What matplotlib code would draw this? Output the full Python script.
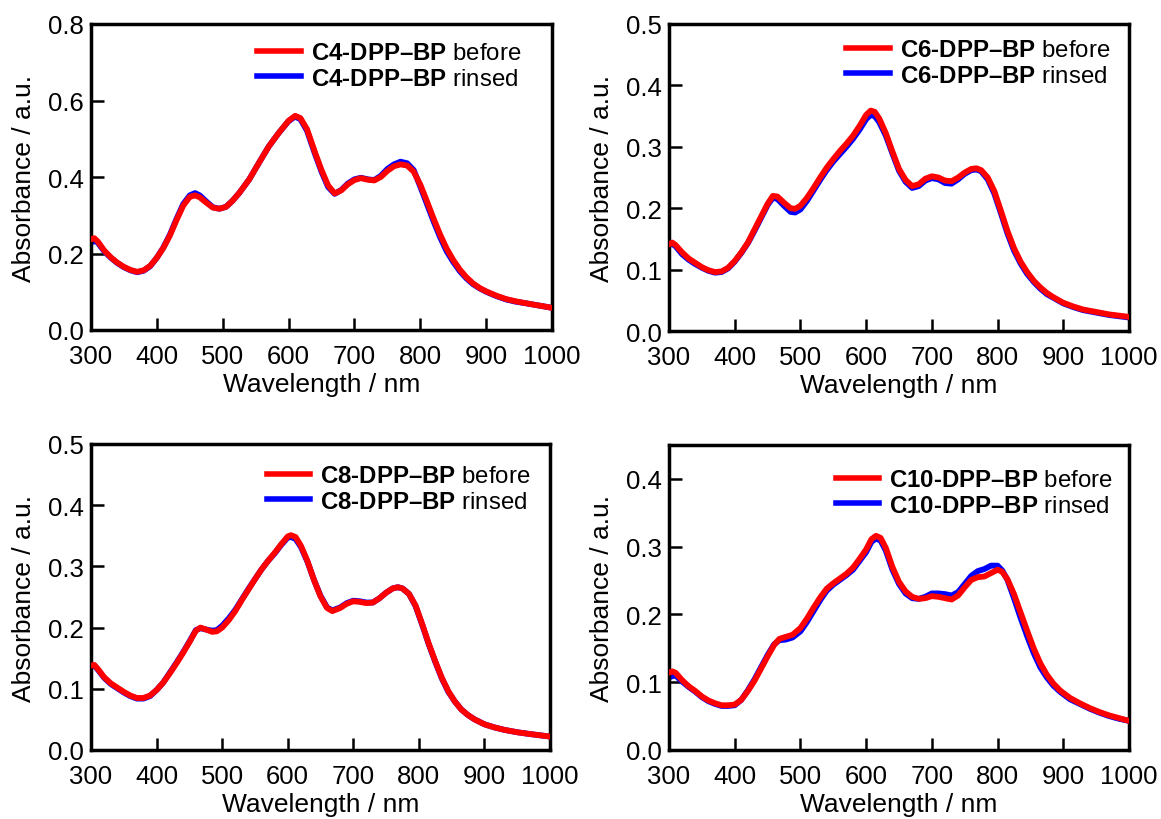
import matplotlib
matplotlib.use("Agg")
import matplotlib.pyplot as plt
from matplotlib.lines import Line2D

plt.rcParams["font.family"] = ["Liberation Sans", "DejaVu Sans"]
plt.rcParams["mathtext.fontset"] = "custom"
plt.rcParams["mathtext.rm"] = "Liberation Sans"
plt.rcParams["mathtext.bf"] = "Liberation Sans:bold"

# ---- C4-DPP-BP ----
c4_wl = [300, 305, 310, 320, 330, 340, 350, 360, 370, 380, 390, 400, 410, 420,
         430, 440, 450, 458, 465, 475, 485, 495, 505, 515, 525, 540, 555, 570,
         585, 600, 610, 618, 628, 640, 650, 660, 670, 680, 690, 700, 710, 720,
         730, 740, 750, 760, 770, 780, 790, 800, 810, 820, 830, 840, 850, 860,
         870, 880, 890, 900, 915, 930, 945, 960, 980, 1000]
c4_before = [0.237, 0.240, 0.232, 0.208, 0.190, 0.176, 0.165, 0.157, 0.152, 0.156,
             0.168, 0.189, 0.215, 0.248, 0.288, 0.325, 0.348, 0.352, 0.347, 0.333,
             0.320, 0.317, 0.322, 0.338, 0.358, 0.393, 0.437, 0.480, 0.515, 0.547,
             0.560, 0.554, 0.525, 0.465, 0.418, 0.378, 0.357, 0.365, 0.381, 0.392,
             0.397, 0.393, 0.391, 0.400, 0.416, 0.428, 0.433, 0.430, 0.414, 0.380,
             0.337, 0.292, 0.250, 0.213, 0.183, 0.158, 0.138, 0.122, 0.110, 0.101,
             0.090, 0.081, 0.075, 0.070, 0.064, 0.058]
c4_rinsed = [0.228, 0.233, 0.229, 0.206, 0.189, 0.175, 0.164, 0.156, 0.151, 0.155,
             0.167, 0.189, 0.216, 0.250, 0.291, 0.329, 0.352, 0.358, 0.352, 0.336,
             0.321, 0.317, 0.322, 0.338, 0.358, 0.393, 0.437, 0.480, 0.515, 0.546,
             0.558, 0.551, 0.521, 0.461, 0.414, 0.374, 0.356, 0.366, 0.383, 0.394,
             0.398, 0.394, 0.392, 0.403, 0.421, 0.433, 0.440, 0.436, 0.418, 0.375,
             0.330, 0.285, 0.243, 0.206, 0.178, 0.154, 0.135, 0.120, 0.109, 0.100,
             0.089, 0.080, 0.074, 0.070, 0.064, 0.058]

# ---- C6-DPP-BP ----
c6_wl = [300, 305, 310, 320, 330, 340, 350, 360, 370, 380, 390, 400, 410, 420,
         430, 440, 450, 458, 465, 475, 485, 492, 500, 510, 520, 530, 540, 550,
         560, 570, 580, 590, 600, 607, 613, 620, 630, 640, 650, 660, 670, 680,
         690, 700, 710, 720, 730, 740, 750, 760, 768, 775, 785, 795, 805, 815,
         825, 835, 845, 855, 865, 875, 885, 900, 915, 930, 950, 970, 1000]
c6_before = [0.141, 0.144, 0.140, 0.128, 0.118, 0.111, 0.104, 0.099, 0.096, 0.097,
             0.103, 0.114, 0.128, 0.144, 0.165, 0.186, 0.207, 0.220, 0.219, 0.209,
             0.200, 0.199, 0.204, 0.217, 0.233, 0.250, 0.266, 0.280, 0.293, 0.305,
             0.318, 0.334, 0.352, 0.359, 0.357, 0.346, 0.322, 0.292, 0.264, 0.246,
             0.236, 0.239, 0.248, 0.252, 0.250, 0.245, 0.244, 0.250, 0.258, 0.264,
             0.265, 0.262, 0.250, 0.228, 0.196, 0.163, 0.135, 0.113, 0.096, 0.082,
             0.071, 0.062, 0.055, 0.046, 0.040, 0.035, 0.031, 0.027, 0.023]
c6_rinsed = [0.140, 0.142, 0.138, 0.125, 0.116, 0.109, 0.103, 0.098, 0.095, 0.096,
             0.102, 0.113, 0.127, 0.143, 0.163, 0.184, 0.205, 0.217, 0.215, 0.204,
             0.194, 0.193, 0.198, 0.212, 0.229, 0.246, 0.262, 0.276, 0.288, 0.300,
             0.313, 0.328, 0.345, 0.352, 0.350, 0.340, 0.318, 0.289, 0.261, 0.243,
             0.233, 0.236, 0.245, 0.249, 0.247, 0.241, 0.240, 0.247, 0.256, 0.262,
             0.263, 0.260, 0.247, 0.224, 0.192, 0.159, 0.131, 0.110, 0.093, 0.080,
             0.069, 0.060, 0.054, 0.045, 0.039, 0.034, 0.030, 0.026, 0.022]

# ---- C8-DPP-BP ----
c8_wl = [300, 305, 310, 320, 330, 340, 350, 360, 370, 380, 390, 400, 410, 420,
         430, 440, 450, 460, 467, 475, 485, 492, 500, 510, 520, 530, 540, 550,
         560, 570, 580, 590, 600, 605, 612, 620, 630, 640, 650, 660, 668, 680,
         690, 700, 710, 720, 730, 740, 750, 760, 768, 775, 785, 795, 805, 815,
         825, 835, 845, 855, 865, 875, 885, 900, 915, 930, 950, 970, 1000]
c8_before = [0.138, 0.139, 0.133, 0.119, 0.109, 0.102, 0.095, 0.089, 0.085, 0.085,
             0.089, 0.098, 0.110, 0.125, 0.141, 0.158, 0.176, 0.195, 0.200, 0.197,
             0.193, 0.194, 0.200, 0.212, 0.227, 0.245, 0.262, 0.279, 0.295, 0.309,
             0.322, 0.336, 0.349, 0.351, 0.348, 0.334, 0.309, 0.278, 0.251, 0.232,
             0.227, 0.232, 0.239, 0.243, 0.242, 0.240, 0.241, 0.248, 0.257, 0.264,
             0.266, 0.264, 0.255, 0.236, 0.206, 0.174, 0.145, 0.118, 0.096, 0.079,
             0.066, 0.057, 0.050, 0.042, 0.037, 0.033, 0.029, 0.026, 0.022]
c8_rinsed = [0.137, 0.138, 0.132, 0.118, 0.108, 0.101, 0.094, 0.088, 0.084, 0.084,
             0.088, 0.098, 0.110, 0.126, 0.142, 0.159, 0.177, 0.196, 0.199, 0.197,
             0.195, 0.196, 0.203, 0.215, 0.229, 0.246, 0.263, 0.279, 0.295, 0.309,
             0.321, 0.335, 0.347, 0.348, 0.345, 0.332, 0.308, 0.278, 0.252, 0.233,
             0.228, 0.233, 0.240, 0.244, 0.243, 0.241, 0.241, 0.248, 0.257, 0.264,
             0.266, 0.264, 0.255, 0.235, 0.205, 0.173, 0.144, 0.117, 0.095, 0.079,
             0.066, 0.057, 0.050, 0.042, 0.037, 0.033, 0.029, 0.026, 0.022]

# ---- C10-DPP-BP ----
c10_wl = [300, 305, 310, 320, 330, 340, 350, 360, 370, 380, 390, 400, 410, 420,
          430, 440, 450, 460, 468, 478, 488, 500, 510, 520, 530, 540, 550, 560,
          570, 580, 590, 600, 608, 615, 622, 630, 640, 650, 660, 670, 680, 690,
          700, 710, 720, 730, 740, 750, 760, 770, 780, 790, 800, 807, 815, 825,
          835, 845, 855, 865, 875, 885, 895, 910, 925, 940, 955, 970, 985, 1000]
c10_before = [0.114, 0.116, 0.114, 0.103, 0.094, 0.087, 0.079, 0.073, 0.069, 0.066,
              0.066, 0.067, 0.074, 0.087, 0.102, 0.120, 0.138, 0.155, 0.164, 0.167,
              0.170, 0.180, 0.194, 0.210, 0.225, 0.238, 0.246, 0.253, 0.260, 0.269,
              0.282, 0.296, 0.311, 0.316, 0.313, 0.298, 0.270, 0.248, 0.234, 0.226,
              0.223, 0.224, 0.227, 0.226, 0.224, 0.222, 0.228, 0.240, 0.251, 0.255,
              0.256, 0.261, 0.266, 0.263, 0.252, 0.230, 0.203, 0.176, 0.150, 0.128,
              0.111, 0.098, 0.088, 0.077, 0.069, 0.062, 0.056, 0.051, 0.047, 0.043]
c10_rinsed = [0.107, 0.109, 0.110, 0.101, 0.093, 0.086, 0.078, 0.072, 0.068, 0.065,
              0.065, 0.066, 0.074, 0.088, 0.104, 0.122, 0.140, 0.156, 0.162, 0.163,
              0.166, 0.175, 0.189, 0.205, 0.221, 0.235, 0.244, 0.251, 0.258, 0.266,
              0.279, 0.292, 0.307, 0.312, 0.309, 0.294, 0.266, 0.245, 0.231, 0.224,
              0.223, 0.226, 0.231, 0.231, 0.230, 0.228, 0.233, 0.245, 0.257, 0.264,
              0.267, 0.272, 0.272, 0.265, 0.251, 0.224, 0.195, 0.168, 0.143, 0.122,
              0.107, 0.095, 0.086, 0.075, 0.068, 0.061, 0.055, 0.050, 0.046, 0.043]

names = ["C4-DPP\u2013BP", "C6-DPP\u2013BP", "C8-DPP\u2013BP", "C10-DPP\u2013BP"]
wavelengths = [c4_wl, c6_wl, c8_wl, c10_wl]
before_sets = [c4_before, c6_before, c8_before, c10_before]
rinsed_sets = [c4_rinsed, c6_rinsed, c8_rinsed, c10_rinsed]
y_limits = [(0, 0.8), (0, 0.5), (0, 0.5), (0, 0.45)]
y_ticks = [[0.0, 0.2, 0.4, 0.6, 0.8],
           [0.0, 0.1, 0.2, 0.3, 0.4, 0.5],
           [0.0, 0.1, 0.2, 0.3, 0.4, 0.5],
           [0.0, 0.1, 0.2, 0.3, 0.4]]
x_ticks = [300, 400, 500, 600, 700, 800, 900, 1000]

RED = "#ff0000"
BLUE = "#0000ff"

W, H = 1161, 820
fig = plt.figure(figsize=(W / 100, H / 100), dpi=100)

# panel boxes in pixels: left, right, top, bottom
boxes = [(91, 552, 25, 331), (669, 1129, 25, 332),
         (91, 550, 445, 751), (669, 1129, 446, 751)]
legend_anchor = [(0.933, 0.941), (0.959, 0.951), (0.958, 0.931), (0.965, 0.921)]

for i in range(4):
    l, r, t, b = boxes[i]
    ax = fig.add_axes([l / W, 1 - b / H, (r - l) / W, (b - t) / H])
    wl = wavelengths[i]
    ax.plot(wl, rinsed_sets[i], color=BLUE, lw=4.2, solid_capstyle="round",
            solid_joinstyle="round", zorder=2)
    ax.plot(wl, before_sets[i], color=RED, lw=4.2, solid_capstyle="round",
            solid_joinstyle="round", zorder=3)
    ax.set_xlim(300, 1000)
    ax.set_ylim(*y_limits[i])
    ax.set_xticks(x_ticks)
    ax.set_yticks(y_ticks[i])
    ax.set_yticklabels([f"{v:.1f}" for v in y_ticks[i]])
    ax.tick_params(direction="in", length=9, width=1.8, labelsize=18.5,
                   top=False, right=False)
    ax.tick_params(axis="x", pad=10)
    ax.tick_params(axis="y", pad=5)
    for s in ax.spines.values():
        s.set_linewidth(2.5)
    ax.set_xlabel("Wavelength / nm", fontsize=19, labelpad=3)
    ax.set_ylabel("Absorbance / a.u.", fontsize=19, labelpad=9)

    bold = names[i].replace("-", "\u2010")
    labels = [r"$\mathbf{" + bold + "}$ before", r"$\mathbf{" + bold + "}$ rinsed"]
    handles = [Line2D([], [], color=RED, lw=4),
               Line2D([], [], color=BLUE, lw=4)]
    ax.legend(handles, labels, loc="upper right", bbox_to_anchor=legend_anchor[i],
              frameon=False, fontsize=17.3, handlelength=1.8, handletextpad=0.42,
              labelspacing=0.15, borderaxespad=0, borderpad=0)

fig.savefig("out.png", dpi=100)
